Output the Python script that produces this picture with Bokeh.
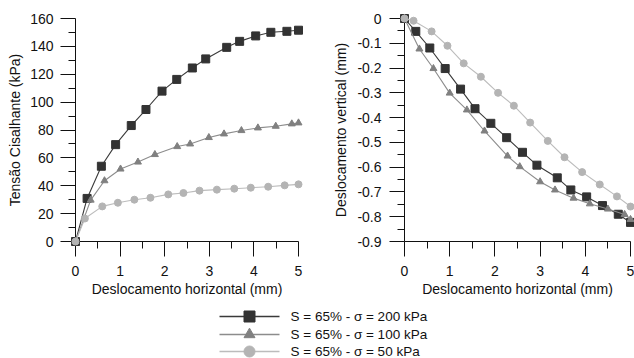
from bokeh.plotting import figure
from bokeh.layouts import row, column
from bokeh.models import Range1d, FixedTicker, CustomJSTickFormatter
from bokeh.core.properties import value
from bokeh.embed import file_html
from bokeh.resources import INLINE

# ---------------- data ----------------
s200_dh_tau = [0, 0.26, 0.58, 0.90, 1.25, 1.58, 1.94, 2.27, 2.62, 2.92, 3.39, 3.68, 4.04, 4.38, 4.74, 5.00]
s200_tau = [0, 30.9, 54.0, 69.5, 83.2, 94.7, 107.9, 116.3, 124.5, 131.0, 139.3, 143.6, 147.5, 150.1, 150.8, 151.6]
s100_dh_tau = [0, 0.34, 0.65, 1.01, 1.40, 1.78, 2.28, 2.57, 2.99, 3.33, 3.72, 4.09, 4.49, 4.85, 5.00]
s100_tau = [0, 29.7, 43.6, 52.0, 57.0, 62.4, 68.1, 70.0, 74.6, 77.2, 79.6, 81.5, 82.7, 84.4, 85.1]
s50_dh_tau = [0, 0.21, 0.60, 0.95, 1.32, 1.68, 2.08, 2.42, 2.78, 3.17, 3.56, 3.93, 4.32, 4.69, 5.00]
s50_tau = [0, 16.5, 25.2, 27.8, 30.0, 31.4, 33.8, 34.8, 36.5, 37.2, 37.9, 38.6, 39.3, 40.3, 41.0]

s200_dh_dv = [0, 0.25, 0.56, 0.90, 1.24, 1.56, 1.91, 2.26, 2.61, 2.93, 3.38, 3.68, 4.03, 4.38, 4.73, 5.00]
s200_dv = [0, -0.052, -0.119, -0.202, -0.285, -0.364, -0.423, -0.481, -0.540, -0.592, -0.643, -0.692, -0.720, -0.755, -0.790, -0.823]
s100_dh_dv = [0, 0.33, 0.64, 1.00, 1.38, 1.77, 2.28, 2.55, 3.00, 3.33, 3.74, 4.10, 4.50, 4.87, 5.00]
s100_dv = [0, -0.123, -0.202, -0.301, -0.369, -0.454, -0.555, -0.598, -0.659, -0.692, -0.725, -0.748, -0.769, -0.791, -0.811]
s50_dh_dv = [0, 0.20, 0.60, 0.95, 1.31, 1.69, 2.07, 2.42, 2.78, 3.17, 3.54, 3.93, 4.32, 4.70, 5.00]
s50_dv = [0, -0.009, -0.052, -0.110, -0.181, -0.235, -0.300, -0.352, -0.420, -0.494, -0.560, -0.620, -0.670, -0.718, -0.759]

series_labels = ["S = 65% - σ = 200 kPa", "S = 65% - σ = 100 kPa", "S = 65% - σ = 50 kPa"]

x_ticks = [0, 1, 2, 3, 4, 5]
x_minor = [0.5, 1.5, 2.5, 3.5, 4.5]
tau_ticks = [0, 20, 40, 60, 80, 100, 120, 140, 160]
tau_minor = [10, 30, 50, 70, 90, 110, 130, 150]
dv_ticks = [0, -0.1, -0.2, -0.3, -0.4, -0.5, -0.6, -0.7, -0.8, -0.9]
dv_minor = [-0.05, -0.15, -0.25, -0.35, -0.45, -0.55, -0.65, -0.75, -0.85]

x_title = "Deslocamento horizontal (mm)"
tau_title = "Tensão Cisalhante (kPa)"
dv_title = "Deslocamento vertical (mm)"

# ---------------- styles ----------------
FONT = "Liberation Sans"
INK = "#111111"
STYLES = [
    dict(fill="#333333", line="#3a3a3a", marker="square", size=8, lsize=11),
    dict(fill="#808080", line="#8c8c8c", marker="triangle", size=7, lsize=11),
    dict(fill="#b4b4b4", line="#bcbcbc", marker="circle", size=7, lsize=11),
]

H_TOP = 304


def style_axis(ax, ticks, minor, label_standoff, title_standoff):
    ax.ticker = FixedTicker(ticks=ticks, minor_ticks=minor)
    ax.axis_line_color = INK
    ax.axis_line_width = 1
    ax.major_tick_line_color = INK
    ax.minor_tick_line_color = INK
    ax.major_tick_out = 15
    ax.major_tick_in = 0
    ax.minor_tick_out = 7
    ax.minor_tick_in = 0
    ax.major_label_text_font = FONT
    ax.major_label_text_font_size = "14px"
    ax.major_label_text_color = INK
    ax.major_label_standoff = label_standoff
    ax.axis_label_text_font = FONT
    ax.axis_label_text_font_size = "14px"
    ax.axis_label_text_font_style = "normal"
    ax.axis_label_text_color = INK
    ax.axis_label_standoff = title_standoff


def make_fig(width, b_left, b_right, b_top, b_bottom, xr, yr):
    p = figure(width=width, height=H_TOP, x_range=xr, y_range=yr,
               output_backend="svg", toolbar_location=None,
               min_border_left=b_left, min_border_right=b_right,
               min_border_top=b_top, min_border_bottom=b_bottom)
    p.outline_line_color = None
    p.grid.visible = False
    p.background_fill_color = "white"
    p.border_fill_color = "white"
    return p


def add_series(p, xs, ys, st):
    p.line(xs, ys, line_color=st["line"], line_width=1.1, level="overlay")
    p.scatter(xs, ys, marker=st["marker"], size=st["size"],
              fill_color=st["fill"], line_color=st["fill"], level="overlay")


# ---- left chart: frame x 75..298, y 18..241
left = make_fig(330, 75, 330 - 298, 18, H_TOP - 241, Range1d(0, 5), Range1d(0, 160))
for xs, ys, st in [(s200_dh_tau, s200_tau, STYLES[0]),
                   (s100_dh_tau, s100_tau, STYLES[1]),
                   (s50_dh_tau, s50_tau, STYLES[2])]:
    add_series(left, xs, ys, st)
style_axis(left.xaxis[0], x_ticks, x_minor, 9, 2)
style_axis(left.yaxis[0], tau_ticks, tau_minor, 7, 4)
left.xaxis[0].axis_label = x_title
left.yaxis[0].axis_label = tau_title

# ---- right chart: frame x 401..630, y 15..244
right = make_fig(304, 401 - 330, 634 - 630, 15, H_TOP - 244, Range1d(0, 5), Range1d(-0.9, 0))
for xs, ys, st in [(s200_dh_dv, s200_dv, STYLES[0]),
                   (s100_dh_dv, s100_dv, STYLES[1]),
                   (s50_dh_dv, s50_dv, STYLES[2])]:
    add_series(right, xs, ys, st)
style_axis(right.xaxis[0], x_ticks, x_minor, 9, 2)
style_axis(right.yaxis[0], dv_ticks, dv_minor, 8, 5)
right.yaxis[0].formatter = CustomJSTickFormatter(
    code="return Math.abs(tick) < 1e-9 ? '0' : tick.toFixed(1);")
right.xaxis[0].axis_label = x_title
right.yaxis[0].axis_label = dv_title

# ---- legend strip (screen-pixel coordinates)
LW, LH = 634, 358 - H_TOP
leg = figure(width=LW, height=LH, x_range=Range1d(0, LW), y_range=Range1d(LH, 0),
             output_backend="svg", toolbar_location=None,
             min_border_left=0, min_border_right=0, min_border_top=0, min_border_bottom=0)
leg.axis.visible = False
leg.grid.visible = False
leg.outline_line_color = None
key_x0, key_x1, text_x = 219, 279, 290
row_y = [12, 30, 47]
for st, lab, yy in zip(STYLES, series_labels, row_y):
    leg.segment(x0=[key_x0], y0=[yy], x1=[key_x1], y1=[yy], line_color=st["line"], line_width=1.3)
    leg.scatter(x=[(key_x0 + key_x1) / 2], y=[yy], marker=st["marker"], size=st["lsize"],
                fill_color=st["fill"], line_color=st["fill"])
    leg.text(x=[text_x], y=[yy], text=[lab], text_font=value(FONT), text_font_size="13.5px",
             text_baseline="middle", text_align="left", text_color=INK)

layout = column(row(left, right, spacing=0), leg, spacing=0)
open("out.html", "w").write(file_html(layout, INLINE))
